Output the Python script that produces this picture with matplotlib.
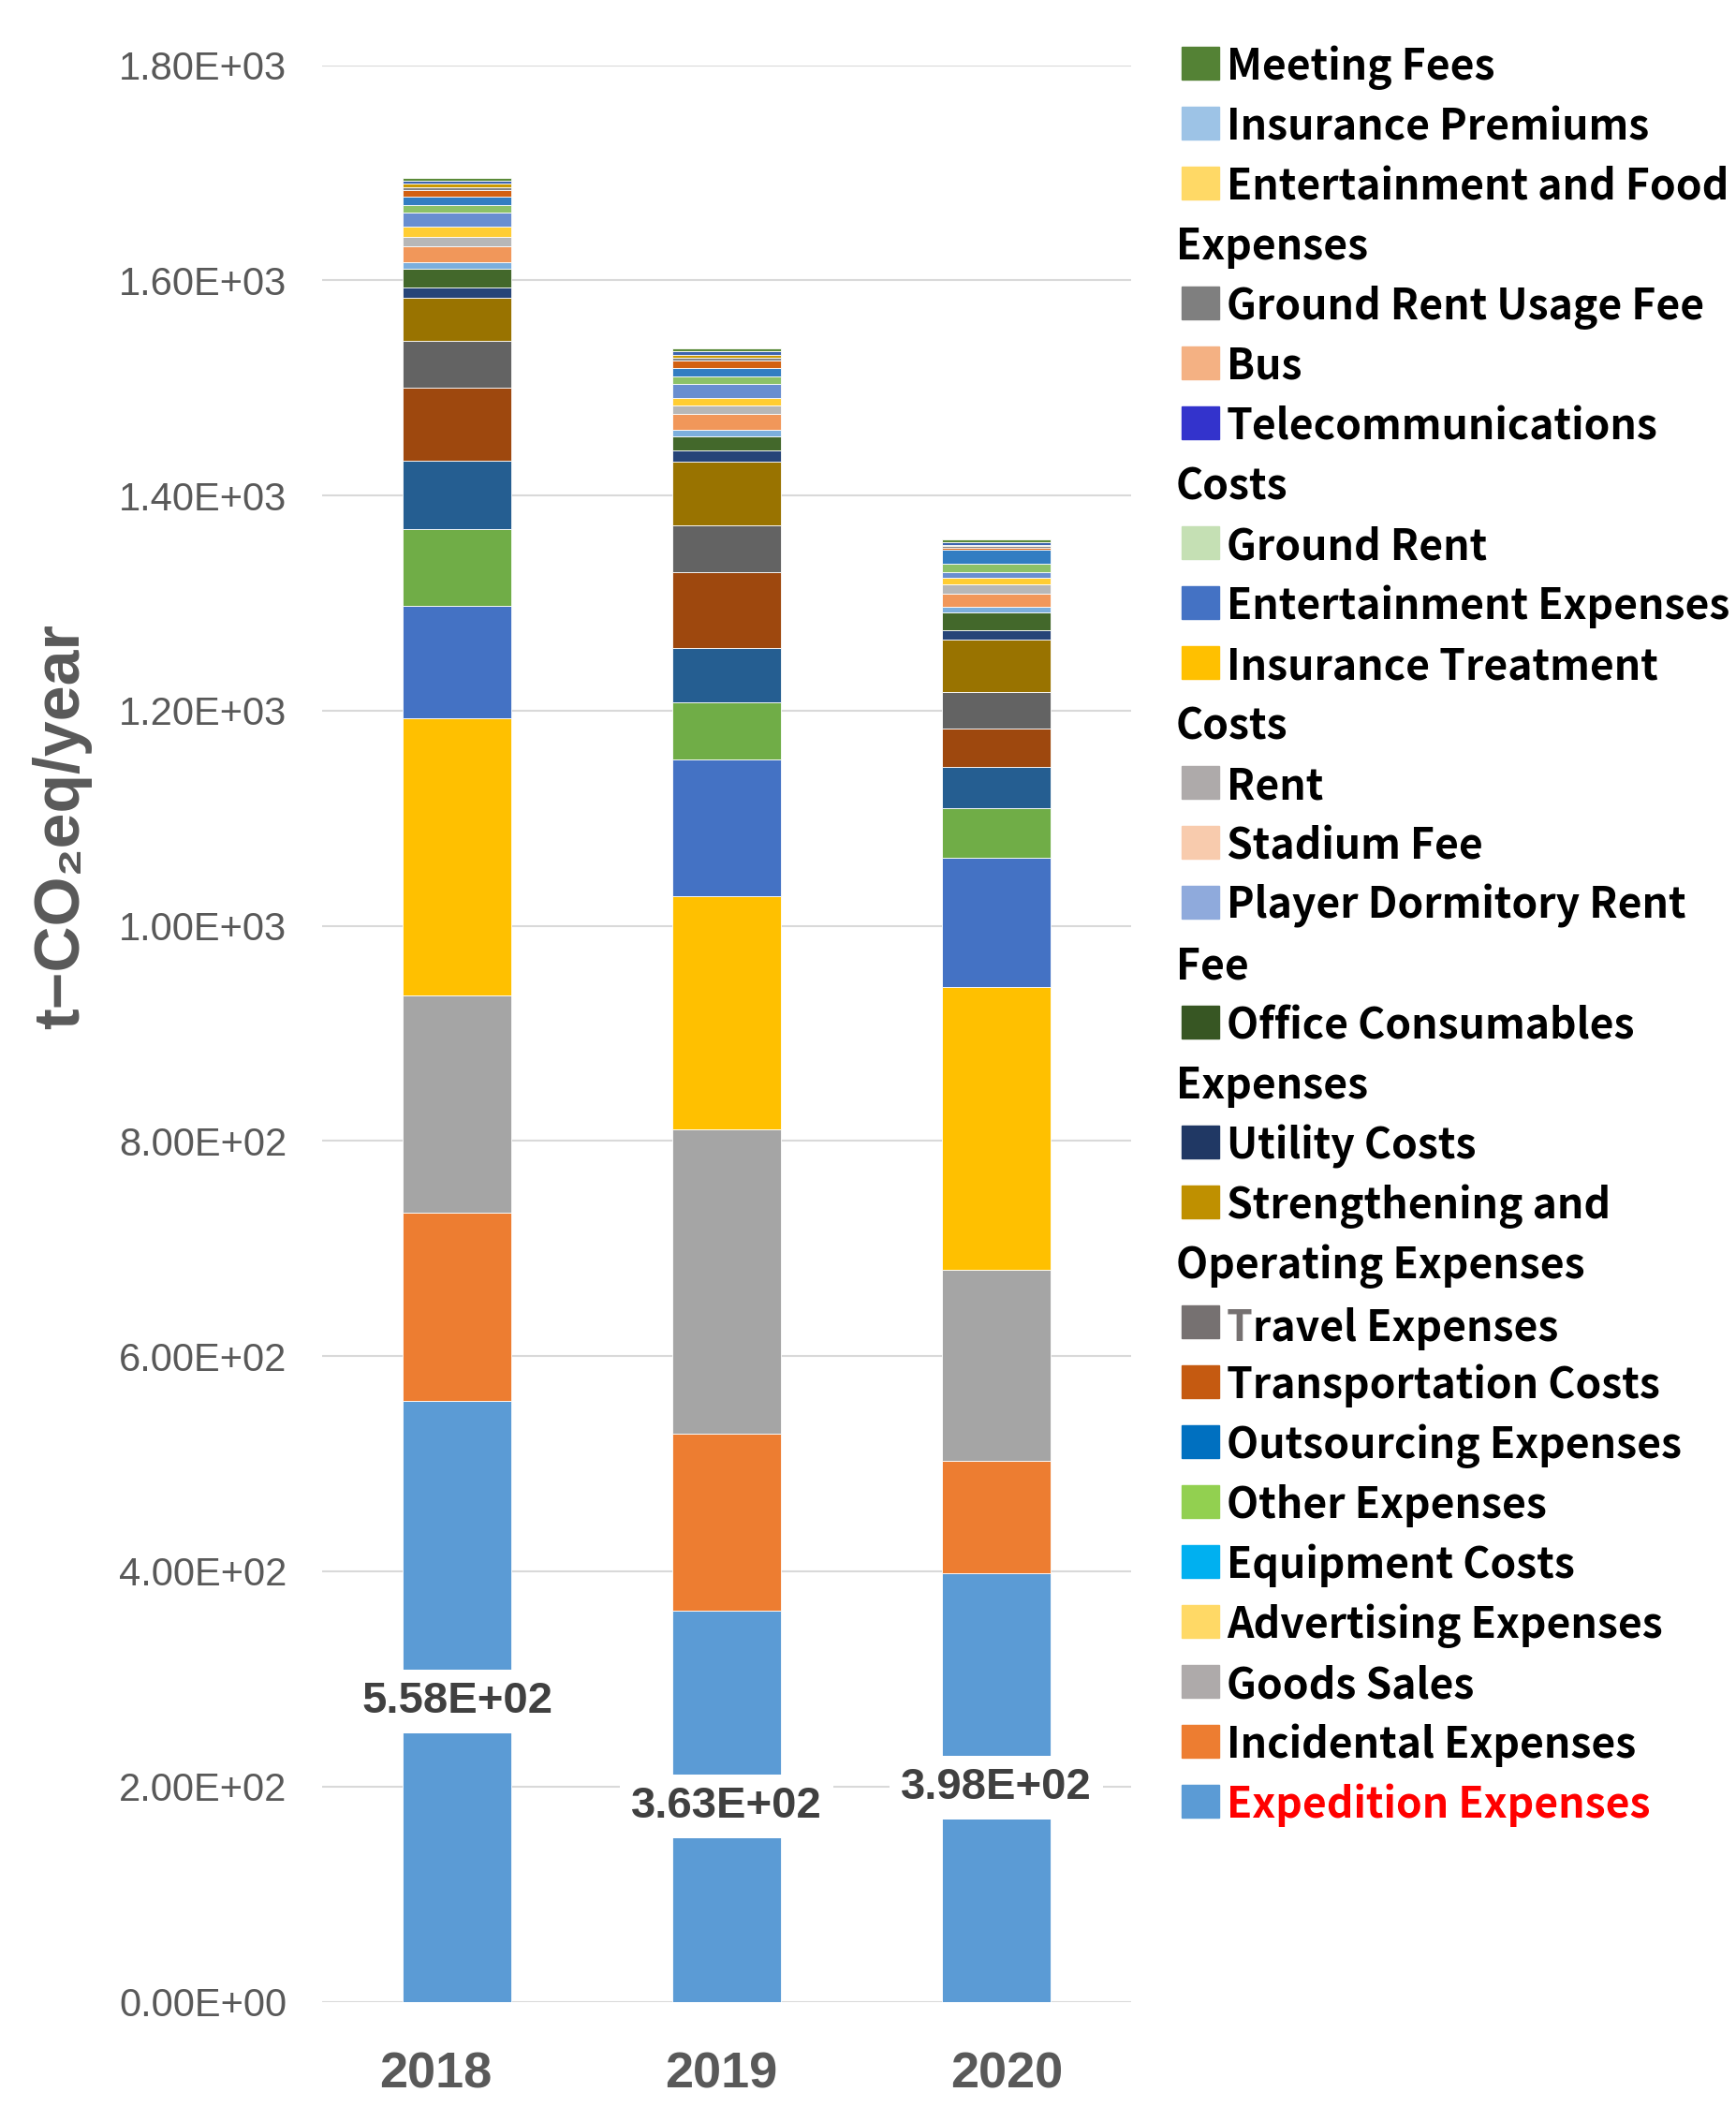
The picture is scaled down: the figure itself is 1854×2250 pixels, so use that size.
import numpy as np
import matplotlib.pyplot as plt
from matplotlib.patches import Rectangle
from matplotlib.ticker import FuncFormatter

years = ['2018', '2019', '2020']

# series in stacking order (bottom -> top)
categories = ['Expedition Expenses', 'Incidental Expenses', 'Goods Sales', 'Advertising Expenses',
              'Equipment Costs', 'Other Expenses', 'Outsourcing Expenses', 'Transportation Costs',
              'Travel Expenses', 'Strengthening and Operating Expenses', 'Utility Costs',
              'Office Consumables Expenses', 'Player Dormitory Rent Fee', 'Stadium Fee', 'Rent',
              'Insurance Treatment Costs', 'Entertainment Expenses', 'Ground Rent',
              'Telecommunications Costs', 'Bus', 'Ground Rent Usage Fee',
              'Entertainment and Food Expenses', 'Insurance Premiums', 'Meeting Fees']

# t-CO2eq/year
v2018 = [558, 175, 202, 257.6, 104.9, 71.6, 62.9, 68.0, 43.5, 40.0, 9.6, 18.0,
         5.8, 14.5, 8.7, 9.9, 12.8, 7.3, 7.8, 5.8, 2.9, 2.9, 2.9, 2.9]
v2019 = [363, 165, 282.6, 216.9, 126.7, 53.6, 50.1, 70.4, 43.7, 59.8, 9.6, 13.9,
         6.1, 14.8, 7.3, 7.3, 12.5, 7.5, 7.5, 7.5, 2.3, 2.9, 2.9, 2.6]
v2020 = [398, 105, 177, 263.5, 119.7, 46.3, 37.7, 35.7, 34.2, 48.7, 9.3, 16.2,
         5.5, 12.2, 8.1, 6.7, 5.2, 7.5, 13.3, 1.7, 1.5, 1.2, 2.6, 2.0]

bar_colors = ['#5B9BD5', '#ED7D31', '#A5A5A5', '#FFC000', '#4472C4', '#70AD47',
              '#255E91', '#9E480E', '#636363', '#997300', '#264478', '#43682B',
              '#7CAFDD', '#F1975A', '#B7B7B7', '#FFCD33', '#698ED0', '#8CC168',
              '#327DC2', '#D26012', '#848484', '#CC9A00', '#3C64AE', '#5A8A39']

# the legend of the original uses its own colours
legend_colors = ['#5B9BD5', '#ED7D31', '#AEAAAA', '#FFD966', '#00B0F0', '#92D050',
                 '#0070C0', '#C55A11', '#767171', '#BF9000', '#203864', '#375623',
                 '#8FAADC', '#F8CBAD', '#AEAAAA', '#FFC000', '#4472C4', '#C5E0B4',
                 '#3333CC', '#F4B183', '#7F7F7F', '#FFD966', '#9DC3E6', '#548235']

wrapped = {'Entertainment and Food Expenses': ['Entertainment and Food', 'Expenses'],
           'Telecommunications Costs': ['Telecommunications', 'Costs'],
           'Insurance Treatment Costs': ['Insurance Treatment', 'Costs'],
           'Player Dormitory Rent Fee': ['Player Dormitory Rent', 'Fee'],
           'Office Consumables Expenses': ['Office Consumables', 'Expenses'],
           'Strengthening and Operating Expenses': ['Strengthening and', 'Operating Expenses']}

W, H = 1854, 2250
fig = plt.figure(figsize=(W / 100, H / 100), dpi=100)
ax = fig.add_axes([344 / W, 1 - 2137.5 / H, 864 / W, 2068 / H])

vals = np.array([v2018, v2019, v2020]).T
x = np.arange(len(years))
bottom = np.zeros(len(years))
for i in range(len(categories)):
    ax.bar(x, vals[i], 0.4, bottom=bottom, color=bar_colors[i],
           edgecolor='white', linewidth=0.6, zorder=2)
    bottom += vals[i]

# value labels on the expedition expenses
for j in range(len(years)):
    ax.text(x[j], vals[0][j] / 2, f'{vals[0][j]:.2E}', ha='center', va='center',
            fontsize=34, fontweight='bold', color='#404040', family='Liberation Sans',
            bbox=dict(boxstyle='square,pad=0.25', fc='white', ec='none'), zorder=3)

ax.set_xlim(-0.5, 2.5)
ax.set_ylim(0, 1800)
ax.set_yticks(np.arange(0, 1801, 200))
ax.yaxis.set_major_formatter(FuncFormatter(lambda v, p: f'{v:.2E}'))
# year labels sit slightly spread out in the original
ax.set_xticks(x + np.array([-0.08, -0.02, 0.04]))
ax.set_xticklabels(years)
ax.yaxis.grid(True, color='#D9D9D9', linewidth=1.5)
ax.set_axisbelow(True)
for s in ax.spines.values():
    s.set_visible(False)
ax.tick_params(length=0)
ax.tick_params(axis='y', pad=27, labelsize=30, labelcolor='#595959')
ax.tick_params(axis='x', pad=38, labelsize=39, labelcolor='#595959')
for t in ax.get_yticklabels():
    t.set_family('Liberation Sans')
for t in ax.get_xticklabels():
    t.set_family('Liberation Sans')
    t.set_fontweight('bold')

ax.set_ylabel('t\u2212CO\u2082eq/year', fontsize=49, color='#595959', fontweight='bold',
              family=['Liberation Sans', 'DejaVu Sans'])
ax.yaxis.set_label_coords(-0.285, 0.607)

# legend drawn by hand, top entry first, long names wrapped like the original
line = 0
for i in range(len(categories) - 1, -1, -1):
    name = categories[i]
    parts = wrapped.get(name, [name])
    base = 85 + 64.0 * line
    fig.add_artist(Rectangle((1262 / W, 1 - base / H), 40 / W, 35 / H,
                             transform=fig.transFigure, color=legend_colors[i]))
    tcol = 'red' if name == 'Expedition Expenses' else 'black'
    kw = dict(fontsize=32, fontweight='bold', family=['Noto Sans CJK JP', 'DejaVu Sans'],
              va='baseline')
    if name == 'Travel Expenses':
        # the first letter is grey in the original
        t0 = fig.text(1310 / W, 1 - (base + 13) / H, 'T', color='#767171', **kw)
        t0.set_va('bottom')
        kw['va'] = 'bottom'
        ax.annotate('ravel Expenses', xy=(1, 0), xycoords=t0, color='black',
                    annotation_clip=False, **kw)
    else:
        fig.text(1310 / W, 1 - base / H, parts[0], color=tcol, **kw)
    line += 1
    for p in parts[1:]:
        base = 85 + 64.0 * line
        fig.text(1256 / W, 1 - base / H, p, color=tcol, **kw)
        line += 1

fig.savefig('out.png', dpi=100, facecolor='white')
